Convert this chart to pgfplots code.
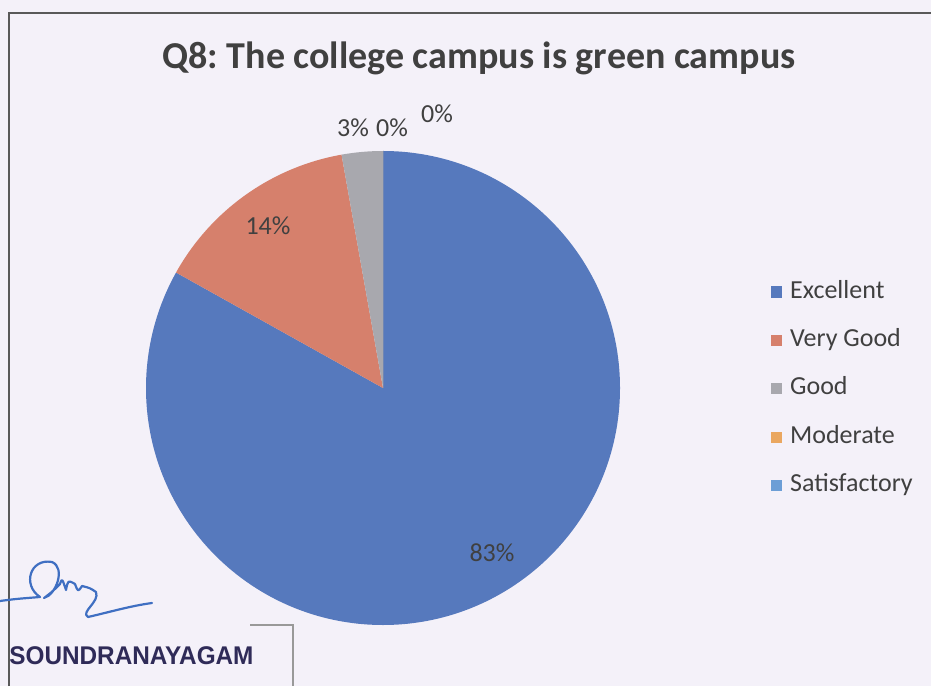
\documentclass[border=0pt]{standalone}
\usepackage{pgfplots}
\usepackage{pgfplotstable}
\pgfplotsset{compat=1.18}
\usepackage{fontspec}
\setmainfont{Carlito}
\newfontfamily\stampfont{Liberation Sans}
\definecolor{bgc}{HTML}{F4F1F9}
\definecolor{cExc}{HTML}{5679BD}
\definecolor{cVG}{HTML}{D6806C}
\definecolor{cGood}{HTML}{A8A8AE}
\definecolor{cMod}{HTML}{EAA760}
\definecolor{cSat}{HTML}{6C9ED6}
\definecolor{txt}{HTML}{404040}
\definecolor{sigblue}{HTML}{3F6FC2}
\definecolor{stampc}{HTML}{2F2B58}

% pie data: value in percent, label position (pixels of the chart area)
\pgfplotstableread{
name value lx ly
Excellent 83.1 492 133
{Very Good} 14.1 268 460
Good 2.8 353 558
Moderate 0 392 558
Satisfactory 0 437 572
}\piedata

\pgfplotstablegetelem{0}{value}\of\piedata\let\vA\pgfplotsretval
\pgfplotstablegetelem{1}{value}\of\piedata\let\vB\pgfplotsretval
\pgfplotstablegetelem{2}{value}\of\piedata\let\vC\pgfplotsretval
\pgfplotstablegetelem{3}{value}\of\piedata\let\vD\pgfplotsretval
\pgfplotstablegetelem{4}{value}\of\piedata\let\vE\pgfplotsretval
\pgfplotstablegetelem{0}{lx}\of\piedata\let\xA\pgfplotsretval
\pgfplotstablegetelem{1}{lx}\of\piedata\let\xB\pgfplotsretval
\pgfplotstablegetelem{2}{lx}\of\piedata\let\xC\pgfplotsretval
\pgfplotstablegetelem{3}{lx}\of\piedata\let\xD\pgfplotsretval
\pgfplotstablegetelem{4}{lx}\of\piedata\let\xE\pgfplotsretval
\pgfplotstablegetelem{0}{ly}\of\piedata\let\yA\pgfplotsretval
\pgfplotstablegetelem{1}{ly}\of\piedata\let\yB\pgfplotsretval
\pgfplotstablegetelem{2}{ly}\of\piedata\let\yC\pgfplotsretval
\pgfplotstablegetelem{3}{ly}\of\piedata\let\yD\pgfplotsretval
\pgfplotstablegetelem{4}{ly}\of\piedata\let\yE\pgfplotsretval
\pgfplotstablegetelem{0}{name}\of\piedata\let\nA\pgfplotsretval
\pgfplotstablegetelem{1}{name}\of\piedata\let\nB\pgfplotsretval
\pgfplotstablegetelem{2}{name}\of\piedata\let\nC\pgfplotsretval
\pgfplotstablegetelem{3}{name}\of\piedata\let\nD\pgfplotsretval
\pgfplotstablegetelem{4}{name}\of\piedata\let\nE\pgfplotsretval
\pgfmathsetmacro\aA{90}
\pgfmathsetmacro\aB{\aA-3.6*\vA}
\pgfmathsetmacro\aC{\aB-3.6*\vB}
\pgfmathsetmacro\aD{\aC-3.6*\vC}
\pgfmathsetmacro\aE{\aD-3.6*\vD}
\pgfmathsetmacro\aF{\aE-3.6*\vE}
\def\R{118.5pt}
\def\lbl{\fontsize{13}{15}\selectfont}
\def\pct#1{\pgfmathprintnumber[fixed,precision=0,assume math mode=true]{#1}\%}
\frenchspacing

\begin{document}
\begin{tikzpicture}
\begin{axis}[
  x=0.5pt, y=0.5pt,
  xmin=0, xmax=931, ymin=0, ymax=686,
  scale only axis, hide axis, clip=true,
  legend style={at={(0.8281,0.4332)}, anchor=west, draw=none, fill=none,
    inner sep=0pt, outer sep=0pt,
    font=\fontsize{13}{15}\selectfont, text=txt, row sep=12.2pt,
    nodes={inner sep=0pt, text height=9pt, text depth=3pt},
    /tikz/every odd column/.append style={column sep=4pt}},
  legend cell align=left,
  legend image code/.code={\fill[#1, draw=none] (0pt,-2.8pt) rectangle (5.6pt,2.8pt);},
]
% background and frame
\fill[bgc] (axis cs:0,0) rectangle (axis cs:931,686);
\draw[gray!70!black, line width=0.9pt] (axis cs:9,0) -- (axis cs:9,673) -- (axis cs:931,673);

\addlegendimage{draw=none, fill=cExc}\addlegendentryexpanded{\nA}
\addlegendimage{draw=none, fill=cVG}\addlegendentryexpanded{\nB}
\addlegendimage{draw=none, fill=cGood}\addlegendentryexpanded{\nC}
\addlegendimage{draw=none, fill=cMod}\addlegendentryexpanded{\nD}
\addlegendimage{draw=none, fill=cSat}\addlegendentryexpanded{\nE}

% slices
\fill[cExc] (axis cs:383,298) -- ++(\aA:\R) arc[start angle=\aA, end angle=\aB, radius=\R] -- cycle;
\fill[cVG] (axis cs:383,298) -- ++(\aB:\R) arc[start angle=\aB, end angle=\aC, radius=\R] -- cycle;
\fill[cGood] (axis cs:383,298) -- ++(\aC:\R) arc[start angle=\aC, end angle=\aD, radius=\R] -- cycle;
\fill[cMod] (axis cs:383,298) -- ++(\aD:\R) arc[start angle=\aD, end angle=\aE, radius=\R] -- cycle;
\fill[cSat] (axis cs:383,298) -- ++(\aE:\R) arc[start angle=\aE, end angle=\aF, radius=\R] -- cycle;

% data labels
\node[text=txt, font=\lbl] at (axis cs:\xA,\yA) {\pct{\vA}};
\node[text=txt, font=\lbl] at (axis cs:\xB,\yB) {\pct{\vB}};
\node[text=txt, font=\lbl] at (axis cs:\xC,\yC) {\pct{\vC}};
\node[text=txt, font=\lbl] at (axis cs:\xD,\yD) {\pct{\vD}};
\node[text=txt, font=\lbl] at (axis cs:\xE,\yE) {\pct{\vE}};

% title
\node[text=txt, font=\fontsize{19}{22}\selectfont\bfseries, anchor=base] at (axis cs:479,617) {Q8: The college campus is green campus};

% stamp and signature (scan residue)
\begin{scope}[shift={(axis cs:0,686)}, x=0.5pt, y=-0.5pt]
\draw[sigblue, line width=1.1pt, line cap=round, line join=round]
  (0,601) .. controls (15,599) .. (40,597)
  .. controls (22,585) and (30,558) .. (52,562)
  .. controls (66,568) and (56,595) .. (44,598)
  .. controls (52,592) .. (60,584) .. controls (62,578) .. (66,590)
  .. controls (68,580) .. (75,584) .. controls (78,592) .. (82,586)
  .. controls (90,588) .. (96,592) .. controls (100,602) and (80,612) .. (88,617)
  .. controls (110,612) and (130,606) .. (152,603);
\draw[gray!80, line width=0.6pt] (250,625) -- (293,625) -- (293,686);
\node[stampc, font=\stampfont\fontsize{12.8}{14}\selectfont\bfseries, anchor=base west, xscale=0.95, inner sep=0pt] at (9,664) {SOUNDRANAYAGAM};
\end{scope}
\end{axis}
\end{tikzpicture}
\end{document}
